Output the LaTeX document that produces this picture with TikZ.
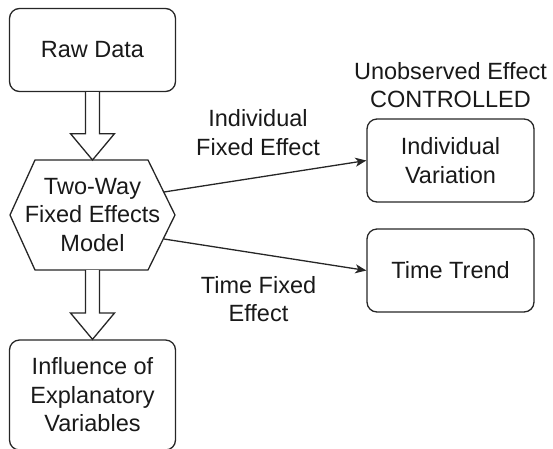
\documentclass[tikz,border=0pt]{standalone}
\usepackage{fontspec}
\setmainfont{Liberation Sans}
\usetikzlibrary{arrows.meta,calc}
\begin{document}
\begin{tikzpicture}[x=1pt,y=-1pt,
  every node/.style={font=\fontsize{23.5}{28.5}\selectfont, align=center, inner sep=0pt, text=black!90},
  box/.style={draw=black!85, rounded corners=10pt, line width=1.3pt, minimum width=166pt, minimum height=83pt},
  conn/.style={draw=black!85, line width=1.3pt, -{Stealth[length=11pt,width=9pt,inset=3pt]}},
  blockarrow/.style={draw=black!85, line width=1.3pt, fill=white, line join=miter},
  hexshape/.style={draw=black!85, line width=1.3pt, line join=miter}]
\useasboundingbox (0,0) rectangle (553,448);
% nodes
\node[box] (raw) at (92.5,50) {Raw Data};
\coordinate (hexW) at (10,215);
\coordinate (hexNW) at (35,160);
\coordinate (hexNE) at (148,160);
\coordinate (hexE) at (175,215);
\coordinate (hexSE) at (148,270);
\coordinate (hexSW) at (35,270);
\draw[hexshape] (hexW) -- (hexNW) -- (hexNE) -- (hexE) -- (hexSE) -- (hexSW) -- cycle;
\node (hex) at (92.5,215) {Two-Way\\Fixed Effects\\Model};
\coordinate (hexN) at (92.5,160);
\coordinate (hexS) at (92.5,270);
\coordinate (exitA) at (164,192);
\coordinate (exitB) at (164,239);
\node[box, minimum height=110pt] (infl) at (92.5,395) {Influence of\\Explanatory\\Variables};
\node[box, minimum width=167pt] (ivar) at (450.5,160.5) {Individual\\Variation};
\node[box, minimum width=167pt] (trend) at (450.5,270.5) {Time Trend};
\node (lblA) at (258,132.5) {Individual\\Fixed Effect};
\node (lblB) at (258.5,299) {Time Fixed\\Effect};
\node (lblC) at (450.5,85) {Unobserved Effect\\CONTROLLED};
% block arrows
\draw[blockarrow] ($(raw.south)+(-7,0)$) -- ($(raw.south)+(-7,41.5)$) -- ($(raw.south)+(-22,41.5)$)
  -- (hexN) -- ($(raw.south)+(22,41.5)$) -- ($(raw.south)+(7,41.5)$) -- ($(raw.south)+(7,0)$);
\draw[blockarrow] ($(hexS)+(-7,0)$) -- ($(hexS)+(-7,43)$) -- ($(hexS)+(-22,43)$)
  -- (infl.north) -- ($(hexS)+(22,43)$) -- ($(hexS)+(7,43)$) -- ($(hexS)+(7,0)$);
% connectors
\draw[conn] (exitA) -- (ivar.west);
\draw[conn] (exitB) -- (trend.west);
\end{tikzpicture}
\end{document}
